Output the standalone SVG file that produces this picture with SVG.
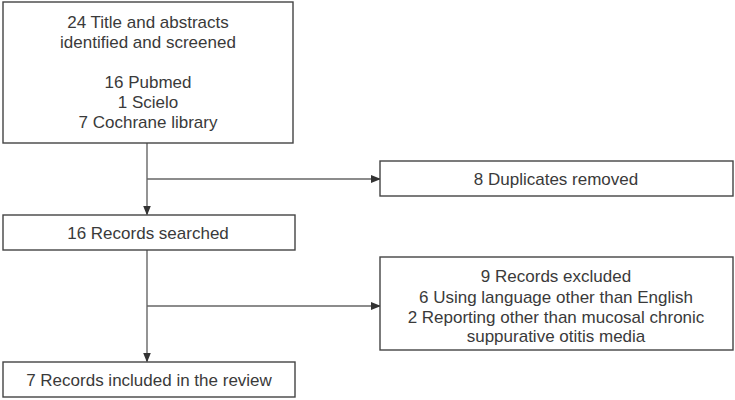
<svg xmlns="http://www.w3.org/2000/svg" width="735" height="400" viewBox="0 0 735 400">
<style>
.box{fill:#fff;stroke:#444;stroke-width:1.4}
.t{font-family:"Liberation Sans",Arial,sans-serif;font-size:17px;fill:#3a3a3a;text-anchor:middle}
.ln{stroke:#666;stroke-width:1.4;fill:none}
</style>
<defs>
<marker id="ah" markerWidth="10" markerHeight="8" refX="9" refY="4" orient="auto" markerUnits="userSpaceOnUse">
<path d="M0,0 L10,4 L0,8 Z" fill="#333"/>
</marker>
</defs>
<rect width="735" height="400" fill="#fff"/>
<g id="connectors">
<line class="ln" x1="147" y1="143" x2="147" y2="214.5" marker-end="url(#ah)"/>
<line class="ln" x1="147" y1="179" x2="380" y2="179" marker-end="url(#ah)"/>
<line class="ln" x1="147" y1="250" x2="147" y2="361.5" marker-end="url(#ah)"/>
<line class="ln" x1="147" y1="306" x2="380" y2="306" marker-end="url(#ah)"/>
</g>
<g id="n1">
<rect class="box" x="3" y="2" width="290" height="141"/>
<text class="t" x="148" y="27.5">24 Title and abstracts</text>
<text class="t" x="148" y="48">identified and screened</text>
<text class="t" x="148" y="87.5">16 Pubmed</text>
<text class="t" x="148" y="107.5">1 Scielo</text>
<text class="t" x="148" y="127.5">7 Cochrane library</text>
</g>
<g id="n2">
<rect class="box" x="380" y="161" width="353" height="35"/>
<text class="t" x="556" y="184.5">8 Duplicates removed</text>
</g>
<g id="n3">
<rect class="box" x="3" y="215" width="292" height="35"/>
<text class="t" x="148" y="238.5">16 Records searched</text>
</g>
<g id="n4">
<rect class="box" x="380" y="257" width="353" height="93"/>
<text class="t" x="556" y="282">9 Records excluded</text>
<text class="t" x="556" y="302.5">6 Using language other than English</text>
<text class="t" x="556" y="322.5">2 Reporting other than mucosal chronic</text>
<text class="t" x="556" y="342">suppurative otitis media</text>
</g>
<g id="n5">
<rect class="box" x="3" y="362" width="292" height="35"/>
<text class="t" x="149" y="385.5">7 Records included in the review</text>
</g>
</svg>
